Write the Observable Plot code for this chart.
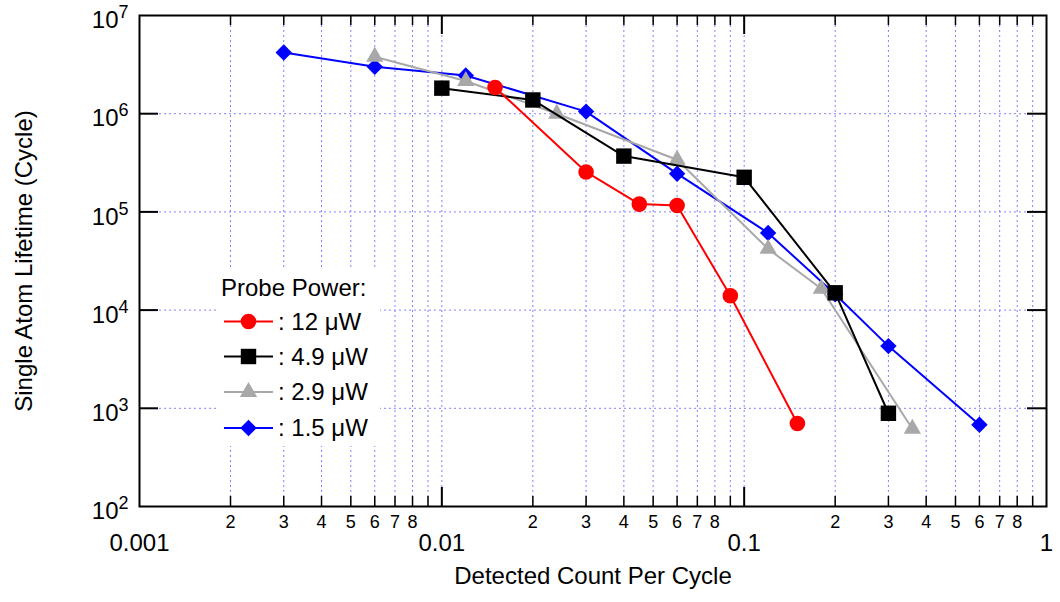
<!DOCTYPE html>
<html><head><meta charset="utf-8">
<script src="https://cdn.jsdelivr.net/npm/d3@7"></script>
<script src="https://cdn.jsdelivr.net/npm/@observablehq/plot@0.6"></script>
<style>
body{margin:0;background:#fff}
svg{font-family:"Liberation Sans",Arial,Helvetica,sans-serif}
</style>
</head><body><div id="chart"></div>
<script>
// ---- data ----
const seriesNames = ["12 μW", "4.9 μW", "2.9 μW", "1.5 μW"];
const seriesColors = ["#ff0000", "#000000", "#a8a8a8", "#0000ff"];
const seriesSymbols = ["circle", "square", "triangle", "diamond2"];
const seriesR = [7.8, 8.7, 6.4, 7.4];

const x12 = [0.015, 0.03, 0.045, 0.06, 0.09, 0.15];
const y12 = [1.85e6, 2.55e5, 1.2e5, 1.16e5, 1.4e4, 700];
const x49 = [0.01, 0.02, 0.04, 0.1, 0.2, 0.3];
const y49 = [1.82e6, 1.38e6, 3.7e5, 2.25e5, 1.5e4, 890];
const x29 = [0.006, 0.012, 0.024, 0.06, 0.12, 0.18, 0.36];
const y29 = [3.8e6, 2.15e6, 1.0e6, 3.4e5, 4.2e4, 1.65e4, 620];
const x15 = [0.003, 0.006, 0.012, 0.03, 0.06, 0.12, 0.2, 0.3, 0.6];
const y15 = [4.2e6, 3.0e6, 2.45e6, 1.05e6, 2.45e5, 6.1e4, 1.45e4, 4.3e3, 680];

const xMajorTicks = [0.001, 0.01, 0.1, 1];
const xMinorTicks = [0.002,0.003,0.004,0.005,0.006,0.007,0.008,0.009,
                     0.02,0.03,0.04,0.05,0.06,0.07,0.08,0.09,
                     0.2,0.3,0.4,0.5,0.6,0.7,0.8,0.9];
const xMinorLabels = [0.002,0.003,0.004,0.005,0.006,0.007,0.008,
                      0.02,0.03,0.04,0.05,0.06,0.07,0.08,
                      0.2,0.3,0.4,0.5,0.6,0.7,0.8];
const yMajorTicks = [1e2, 1e3, 1e4, 1e5, 1e6, 1e7];
const xTitle = "Detected Count Per Cycle";
const yTitle = "Single Atom Lifetime (Cycle)";
const legendTitle = "Probe Power:";

// ---- layout ----
const W = 1060, H = 602, mL = 139, mR = 14, mT = 15, mB = 96;
const fw = W - mL - mR, fh = H - mT - mB;

const toRows = (xs, ys, i) => xs.map((x, k) => ({x, y: ys[k], s: i}));
const series = [toRows(x12, y12, 0), toRows(x49, y49, 1), toRows(x29, y29, 2), toRows(x15, y15, 3)];
const drawOrder = [3, 2, 1, 0];

const xGrid = [...xMinorTicks, 0.01, 0.1];
const yGrid = yMajorTicks.slice(1, -1);
const gridStyle = {stroke: "#8080ff", strokeDasharray: "2,3", strokeWidth: 1};
const mantissa = d => String(Math.round(d / Math.pow(10, Math.floor(Math.log10(d) + 1e-9))));

const plot = Plot.plot({
  width: W, height: H,
  marginLeft: mL, marginRight: mR, marginTop: mT, marginBottom: mB,
  style: {fontFamily: '"Liberation Sans",Arial,sans-serif', background: "#fff", color: "#000"},
  x: {type: "log", domain: [0.001, 1], axis: null},
  y: {type: "log", domain: [100, 1e7]},
  marks: [
    Plot.ruleX(xGrid, gridStyle),
    Plot.ruleY(yGrid, gridStyle),
    ...drawOrder.flatMap(i => [
      Plot.line(series[i], {x: "x", y: "y", stroke: seriesColors[i], strokeWidth: 2}),
      Plot.dot(series[i], {x: "x", y: "y", fill: seriesColors[i], stroke: "none", symbol: seriesSymbols[i], r: seriesR[i]})
    ]),
    // inward ticks
    Plot.ruleX(xMinorTicks, {insetTop: fh - 10, stroke: "#000", strokeWidth: 1.5}),
    Plot.ruleX(xMinorTicks, {insetBottom: fh - 10, stroke: "#000", strokeWidth: 1.5}),
    Plot.ruleX([0.01, 0.1], {insetTop: fh - 19, stroke: "#000", strokeWidth: 2}),
    Plot.ruleX([0.01, 0.1], {insetBottom: fh - 19, stroke: "#000", strokeWidth: 2}),
    Plot.ruleY(yGrid, {insetRight: fw - 19, stroke: "#000", strokeWidth: 2}),
    Plot.ruleY(yGrid, {insetLeft: fw - 19, stroke: "#000", strokeWidth: 2}),
    Plot.frame({stroke: "#000", strokeWidth: 2}),
    // x tick labels
    Plot.text(xMinorLabels, {x: d => d, frameAnchor: "bottom", dy: 16, fontSize: 18, textAnchor: "middle", lineAnchor: "middle", text: mantissa}),
    Plot.text(xMajorTicks, {x: d => d, frameAnchor: "bottom", dy: 37, fontSize: 24, textAnchor: "middle", lineAnchor: "middle", text: d => String(d)}),
    Plot.axisY(yMajorTicks, {tickSize: 0, tickPadding: 11, fontSize: 24, label: null, dy: 5,
      tickFormat: d => "10^" + Math.round(Math.log10(d))}),
    Plot.text([xTitle], {frameAnchor: "bottom", dy: 77, fontSize: 24, textAnchor: "middle", text: d => d}),
    Plot.text([yTitle], {frameAnchor: "left", dx: -115, rotate: -90, fontSize: 24, textAnchor: "middle", text: d => d})
  ]
});

// superscript exponents on y tick labels
d3.select(plot).selectAll('g[aria-label="y-axis tick label"] text').each(function () {
  const t = d3.select(this);
  const s = t.text();
  const m = s.match(/^(\d+)\^(\d+)$/);
  if (!m) return;
  t.text("");
  t.append("tspan").text(m[1]);
  t.append("tspan").attr("dy", "-0.55em").attr("font-size", "18px").text(m[2]);
});

// legend
const svg = d3.select(plot);
const lg = svg.append("g").attr("font-size", 24).attr("fill", "#000").attr("text-anchor", "start");
lg.append("rect").attr("x", 218).attr("y", 270).attr("width", 162).attr("height", 176).attr("fill", "#fff");
lg.append("text").attr("x", 221).attr("y", 288).attr("dy", "0.35em").text(legendTitle);
const rowY = [321.5, 356.5, 392, 428];
seriesNames.forEach((name, i) => {
  const y = rowY[i];
  lg.append("line").attr("x1", 224).attr("x2", 273).attr("y1", y).attr("y2", y)
    .attr("stroke", seriesColors[i]).attr("stroke-width", 2);
  const sym = {circle: d3.symbolCircle, square: d3.symbolSquare, triangle: d3.symbolTriangle, diamond2: d3.symbolDiamond2}[seriesSymbols[i]];
  lg.append("path").attr("transform", `translate(248.5,${y})`)
    .attr("d", d3.symbol(sym, Math.PI * seriesR[i] * seriesR[i])())
    .attr("fill", seriesColors[i]);
  lg.append("text").attr("x", 278).attr("y", y).attr("dy", "0.35em").text(": " + name);
});

document.getElementById("chart").appendChild(plot);
</script>
</body></html>
